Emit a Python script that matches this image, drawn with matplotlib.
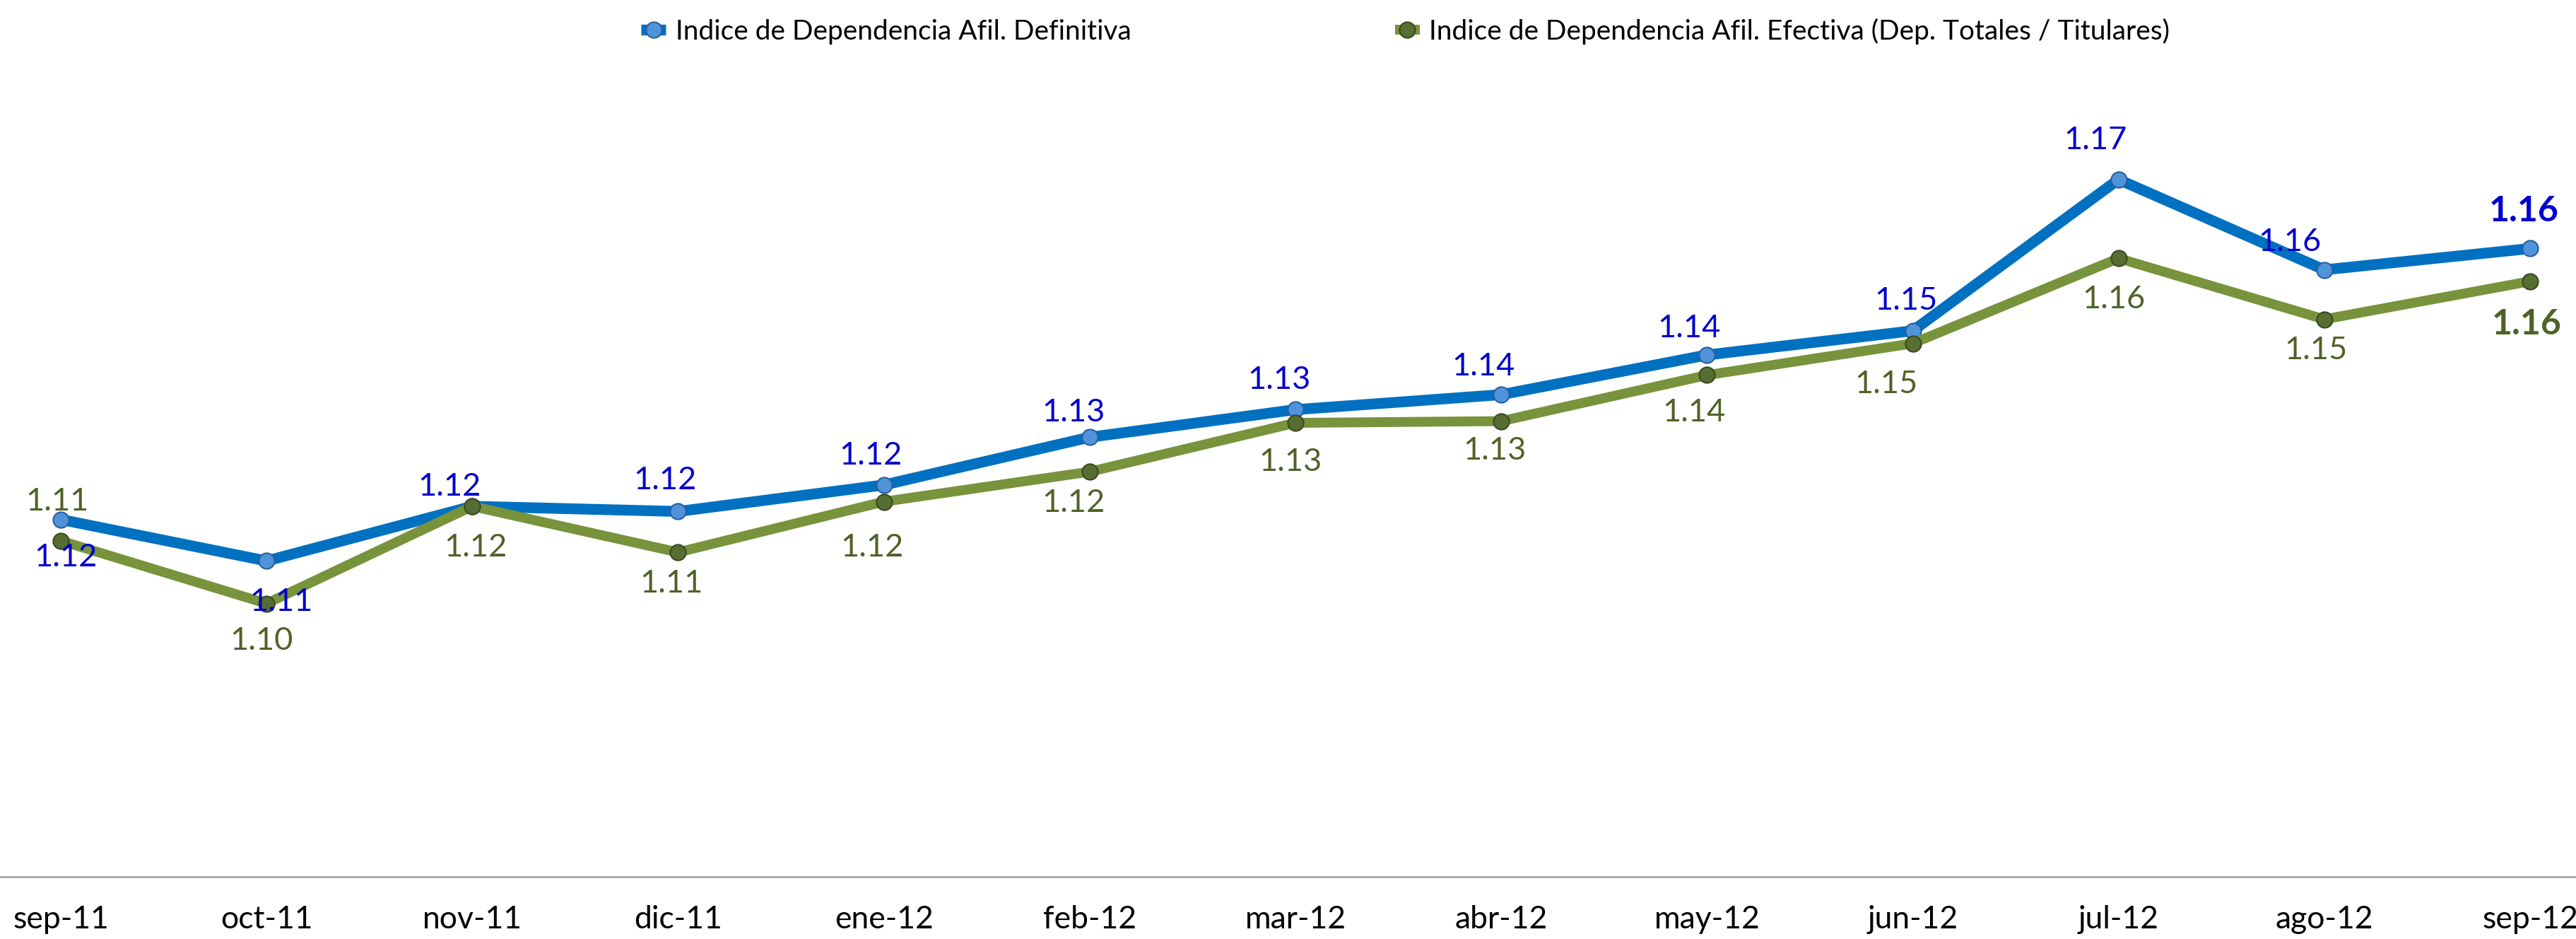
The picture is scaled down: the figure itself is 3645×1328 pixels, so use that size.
import matplotlib
matplotlib.use("Agg")
import matplotlib.pyplot as plt

months = ["sep-11", "oct-11", "nov-11", "dic-11", "ene-12", "feb-12", "mar-12",
          "abr-12", "may-12", "jun-12", "jul-12", "ago-12", "sep-12"]
definitiva = [1.1153, 1.1081, 1.1176, 1.1167, 1.1213, 1.1296, 1.1344,
              1.1370, 1.1439, 1.1481, 1.1744, 1.1587, 1.1624]
efectiva = [1.1116, 1.1007, 1.1176, 1.1096, 1.1184, 1.1236, 1.1321,
            1.1324, 1.1404, 1.1459, 1.1607, 1.1501, 1.1567]
name_def = "Indice de Dependencia Afil. Definitiva"
name_efe = "Indice de Dependencia Afil. Efectiva (Dep. Totales / Titulares)"

# label offsets (in points) relative to each marker
S = 1.674
off_def = [(3, -23), (9, -25), (-14, 12), (-8, 19), (-8, 18), (-10, 15), (-10, 18),
           (-11, 17), (-11, 16), (-4, 18), (-14, 24), (-21, 17), (-4, 23)]
off_efe = [(-2, 24), (-3, -23), (2, -25), (-4, -19), (-7, -28), (-10, -19), (-3, -24),
           (-4, -18), (-8, -23), (-16, -25), (-3, -25), (-5, -19), (-2, -26)]

plt.rcParams['font.family'] = ['Lato', 'DejaVu Sans']

W, H = 3645, 1328
fig = plt.figure(figsize=(W / 100, H / 100), dpi=100)
bottom = 88 / H
ax = fig.add_axes([0, bottom, 1, 1 - bottom])

x = list(range(len(months)))
c_blue_line = "#0070C0"
c_green_line = "#77933C"
c_blue_txt = "#0000CC"
c_green_txt = "#4F6228"

ax.plot(x, definitiva, color=c_blue_line, lw=11, marker="o", ms=16,
        markerfacecolor="#4F93DB", markeredgecolor="#2B5E9E", markeredgewidth=1.5,
        label=name_def, zorder=3, solid_capstyle="butt")
ax.plot(x, efectiva, color=c_green_line, lw=10, marker="o", ms=16,
        markerfacecolor="#586D32", markeredgecolor="#3A4A22", markeredgewidth=1.5,
        label=name_efe, zorder=4, solid_capstyle="butt")

n = len(months)
for i in range(n):
    bold = (i == n - 1)
    dx, dy = off_def[i]
    ax.annotate(f"{definitiva[i]:.2f}", (x[i], definitiva[i]), xytext=(dx * S, dy * S),
                textcoords="offset points", ha="center", va="center",
                fontsize=36 if bold else 32.5, fontweight="bold" if bold else "normal",
                color=c_blue_txt, zorder=6)
    dx, dy = off_efe[i]
    ax.annotate(f"{efectiva[i]:.2f}", (x[i], efectiva[i]), xytext=(dx * S, dy * S),
                textcoords="offset points", ha="center", va="center",
                fontsize=36 if bold else 32.5, fontweight="bold" if bold else "normal",
                color=c_green_txt, zorder=6)

ax.set_xlim(-86 / 291.17, 12 + 65 / 291.17)
ax.set_ylim(1.0532, 1.2056)
ax.set_xticks(x)
ax.set_xticklabels(months, fontsize=32)
ax.tick_params(axis="x", length=0, pad=29)
ax.set_yticks([])
for s in ["top", "right", "left"]:
    ax.spines[s].set_visible(False)
ax.spines["bottom"].set_color("#A6A6A6")
ax.spines["bottom"].set_linewidth(2)
ax.set_facecolor("white")

leg = fig.legend(loc="center left", bbox_to_anchor=(907 / W, 1 - 44 / H), ncol=2,
                 frameon=False, fontsize=28, handlelength=0.9, handletextpad=0.35,
                 columnspacing=9.6, borderaxespad=0, borderpad=0)
for t in leg.get_texts():
    t.set_color("black")

fig.savefig("out.png", dpi=100, facecolor="white")
